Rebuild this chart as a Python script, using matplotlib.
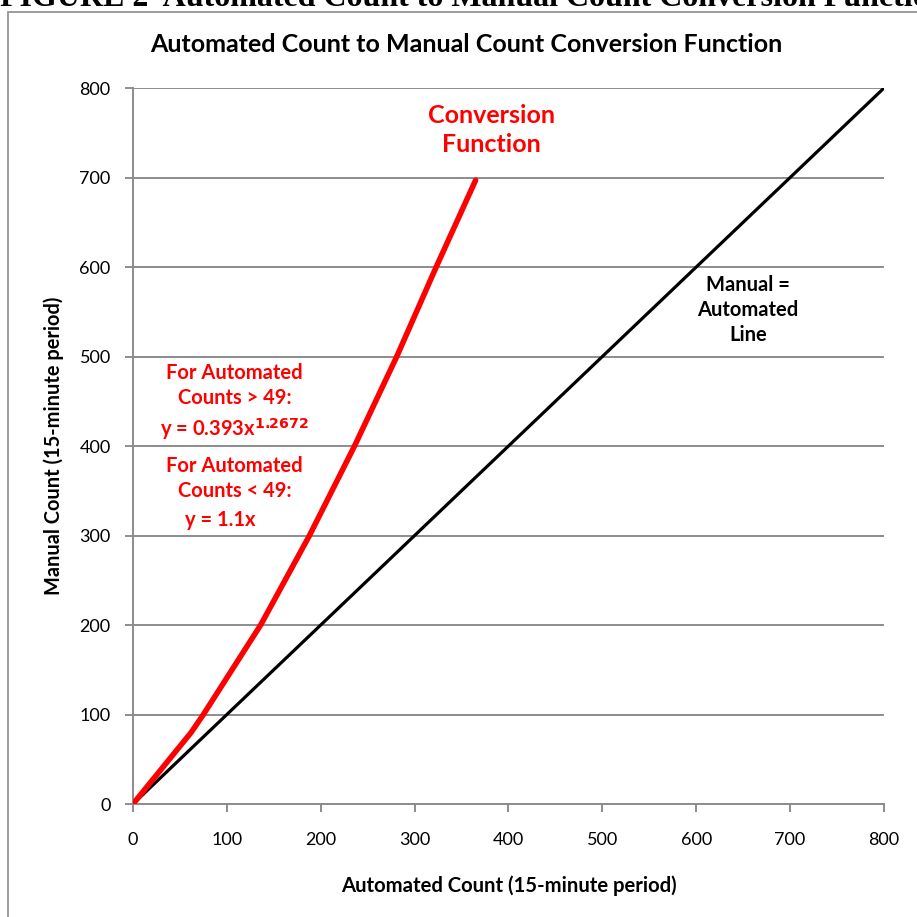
import numpy as np
import matplotlib.pyplot as plt
from matplotlib.patches import Rectangle

# values
auto_counts = [0, 62, 75, 136, 188, 236, 281, 323, 365]
manual_counts = [0, 80, 100, 200, 300, 400, 500, 600, 697]
equal_line = [0, 800]
ticks = [0, 100, 200, 300, 400, 500, 600, 700, 800]

plt.rcParams['font.family'] = ['Lato', 'DejaVu Sans']

fig = plt.figure(figsize=(9.17, 9.17), dpi=100)
ax = fig.add_axes([0.145, 0.1232, 0.819, 0.7808])

# clipped caption at the very top and outer frame of the chart
fig.text(0.0, 1 - 6 / 917, 'FIGURE 2  Automated Count to Manual Count Conversion Function',
         fontsize=23, fontweight='bold', family='Liberation Serif', va='baseline', ha='left')
fig.patches.append(Rectangle((8 / 917, -0.05), 1.2, 1 - 12 / 917 + 0.05,
                             transform=fig.transFigure, fill=False, ec='#8c8c8c', lw=1.2))

ax.plot(equal_line, equal_line, color='black', lw=2.3, solid_capstyle='round', zorder=3)
ax.plot(auto_counts, manual_counts, color='#ff0000', lw=4, solid_capstyle='round', zorder=4)

ax.set_xlim(0, 800)
ax.set_ylim(0, 800)
ax.set_xticks(ticks)
ax.set_yticks(ticks)
ax.grid(axis='y', color='#8c8c8c', lw=1.4)
ax.set_axisbelow(True)
for s in ['top', 'right']:
    ax.spines[s].set_visible(False)
for s in ['left', 'bottom']:
    ax.spines[s].set_color('#8c8c8c')
    ax.spines[s].set_linewidth(1.4)
ax.tick_params(axis='both', colors='#8c8c8c', length=6, width=1.4, labelcolor='black', labelsize=13)
ax.tick_params(axis='x', pad=14)
ax.tick_params(axis='y', pad=10)

fig.text(466 / 917, 1 - 45 / 917, 'Automated Count to Manual Count Conversion Function',
         fontsize=18, fontweight='bold', ha='center', va='center')
ax.set_xlabel('Automated Count (15-minute period)', fontsize=14.6, fontweight='bold', labelpad=20)
ax.set_ylabel('Manual Count (15-minute period)', fontsize=14.4, fontweight='bold', labelpad=11)

ax.text(382, 753, 'Conversion\nFunction', color='#ff0000', fontsize=18, fontweight='bold',
        ha='center', va='center', linespacing=1.3)
ax.text(655, 552, 'Manual =\nAutomated\nLine', color='black', fontsize=14.5, fontweight='bold',
        ha='center', va='center', linespacing=1.3)
ax.text(108, 468, 'For Automated\nCounts > 49:', color='#ff0000', fontsize=14.5,
        fontweight='bold', ha='center', va='center', linespacing=1.3)
ax.text(108, 419, r'y = 0.393x$^{\mathbf{1.2672}}$', color='#ff0000', fontsize=14.5,
        fontweight='bold', ha='center', va='center')
ax.text(108, 364, 'For Automated\nCounts < 49:', color='#ff0000', fontsize=14.5,
        fontweight='bold', ha='center', va='center', linespacing=1.3)
ax.text(93, 317, 'y = 1.1x', color='#ff0000', fontsize=14.5,
        fontweight='bold', ha='center', va='center')

fig.savefig('out.png', dpi=100)
